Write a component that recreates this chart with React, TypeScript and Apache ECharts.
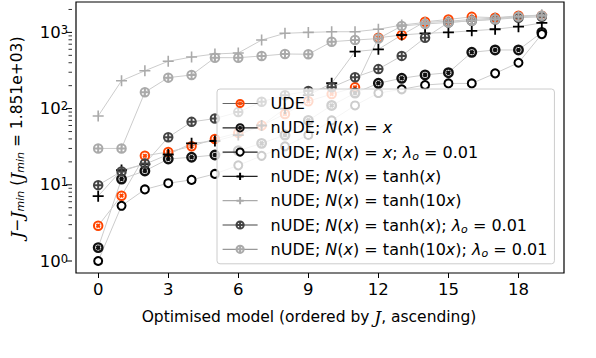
import React, { useEffect, useRef } from 'react';
import * as echarts from 'echarts';

const models = [0, 1, 2, 3, 4, 5, 6, 7, 8, 9, 10, 11, 12, 13, 14, 15, 16, 17, 18, 19];
const xTickValues = [0, 3, 6, 9, 12, 15, 18];
const yMajorTicks = [1, 10, 100, 1000];
const yMinorTicks = [2, 3, 4, 5, 6, 7, 8, 9, 20, 30, 40, 50, 60, 70, 80, 90, 200, 300, 400, 500, 600, 700, 800, 900, 2000];

const udeVals = [2.9, 7.2, 24, 27, 32, 40, 48, 60, 85, 125, 155, 190, 850, 925, 1380, 1480, 1600, 1560, 1650, 1650];
const nudeXVals = [1.5, 11.9, 15.2, 21.8, 23, 24.6, 28, 35, 45, 70, 110, 160, 215, 250, 277, 296, 548, 588, 588, 1000];
const nudeXLamVals = [1.0, 5.3, 8.7, 10.5, 11.6, 13.9, 18, 24, 32, 45, 70, 110, 160, 179, 204, 214, 214, 290, 400, 950];
const nudeTanhVals = [7.1, 15.6, 18.6, 25, 35, 37.6, 45, 60, 100, 150, 215, 560, 600, 925, 973, 1000, 1050, 1100, 1190, 1330];
const nudeTanh10Vals = [80, 232, 314, 418, 475, 521, 537, 794, 973, 1000, 1020, 1020, 1100, 1250, 1350, 1400, 1480, 1540, 1620, 1700];
const nudeTanhLamVals = [9.9, 15, 19, 42, 67, 74, 90, 123, 150, 170, 190, 258, 330, 492, 850, 1350, 1420, 1480, 1560, 1600];
const nudeTanh10LamVals = [30, 30, 164, 255, 276, 466, 466, 490, 521, 517, 755, 794, 830, 1213, 1290, 1350, 1425, 1490, 1610, 1660];

const OTIMES = 'path://M10 0A10 10 0 1 1 -10 0A10 10 0 1 1 10 0ZM-4 -4L4 4M-4 4L4 -4';
const OPLUS = 'path://M10 0A10 10 0 1 1 -10 0A10 10 0 1 1 10 0ZM-10 0L10 0M0 -10L0 10';
const PLUS = 'path://M-10 0L10 0M0 -10L0 10';

const FONT = 'DejaVu Sans';

const seriesDefs = [
  { name: 'UDE', label: 'UDE', vals: udeVals, symbol: OTIMES, size: 8.5, color: '#ff4500', bw: 2, legendLine: '#666666' },
  { name: 'nUDE; N(x) = x', label: 'nUDE; {i|N}({i|x}) = {i|x}', vals: nudeXVals, symbol: OTIMES, size: 8.5, color: '#111111', bw: 2.4, legendLine: '#222222' },
  { name: 'nUDE; N(x) = x; λo = 0.01', label: 'nUDE; {i|N}({i|x}) = {i|x}; {i|λ}{sub|o} = 0.01', vals: nudeXLamVals, symbol: 'emptyCircle', size: 8, color: '#000000', bw: 1.8, legendLine: '#222222' },
  { name: 'nUDE; N(x) = tanh(x)', label: 'nUDE; {i|N}({i|x}) = tanh({i|x})', vals: nudeTanhVals, symbol: PLUS, size: 11, color: '#000000', bw: 1.8, legendLine: '#222222' },
  { name: 'nUDE; N(x) = tanh(10x)', label: 'nUDE; {i|N}({i|x}) = tanh(10{i|x})', vals: nudeTanh10Vals, symbol: PLUS, size: 11, color: '#aaaaaa', bw: 1.6, legendLine: '#aaaaaa' },
  { name: 'nUDE; N(x) = tanh(x); λo = 0.01', label: 'nUDE; {i|N}({i|x}) = tanh({i|x}); {i|λ}{sub|o} = 0.01', vals: nudeTanhLamVals, symbol: OPLUS, size: 8.5, color: '#444444', bw: 2, legendLine: '#444444' },
  { name: 'nUDE; N(x) = tanh(10x); λo = 0.01', label: 'nUDE; {i|N}({i|x}) = tanh(10{i|x}); {i|λ}{sub|o} = 0.01', vals: nudeTanh10LamVals, symbol: OPLUS, size: 8.5, color: '#aaaaaa', bw: 2, legendLine: '#999999' },
];

const labelMap: Record<string, string> = {};
seriesDefs.forEach((d) => { labelMap[d.name] = d.label; });

export default function App() {
  const ref = useRef<HTMLDivElement>(null);
  useEffect(() => {
    const chart = echarts.init(ref.current!, null, { renderer: 'svg' });
    const yMin = 0.696;
    const yMax = 2506;
    const gridLeft = 72;
    const option: any = {
      animation: false,
      textStyle: { fontFamily: FONT },
      grid: { left: gridLeft, right: 32, top: 2, bottom: 85, show: true, borderColor: '#000', borderWidth: 1.2, backgroundColor: 'transparent' },
      xAxis: {
        type: 'value', min: -0.95, max: 19.95,
        axisLine: { show: false },
        splitLine: { show: false },
        axisTick: { show: true, customValues: xTickValues, length: 5, lineStyle: { color: '#000', width: 1 } },
        axisLabel: { customValues: xTickValues, color: '#000', fontSize: 16.5, fontFamily: FONT, margin: 8 },
        name: 'Optimised model (ordered by {J|J}, ascending)',
        nameLocation: 'middle', nameGap: 35,
        nameTextStyle: {
          color: '#000', fontSize: 15.5, fontFamily: FONT, padding: [0, 22, 0, 0],
          rich: { J: { fontFamily: 'DejaVu Serif', fontStyle: 'italic', fontSize: 17, color: '#000' } },
        },
      },
      yAxis: {
        type: 'log', logBase: 10, min: yMin, max: yMax,
        axisLine: { show: false },
        splitLine: { show: false },
        minorTick: { show: false },
        axisTick: { show: false },
        axisLabel: {
          customValues: yMajorTicks, color: '#000', fontSize: 16.5, fontFamily: FONT, margin: 8,
          formatter: (v: number) => {
            const e = Math.round(Math.log10(v));
            if (Math.abs(Math.pow(10, e) - v) < 1e-6 * v) return '10{sup|' + e + '}';
            return '';
          },
          rich: { sup: { fontSize: 11.5, verticalAlign: 'top', color: '#000', fontFamily: FONT } },
        },
        name: '{J|J}−{J|J}{sub|min} ({J|J}{sub|min} = 1.851e+03)',
        nameLocation: 'middle', nameRotate: 90, nameGap: 50,
        nameTextStyle: {
          color: '#000', fontSize: 15.5, fontFamily: FONT,
          rich: {
            J: { fontFamily: 'DejaVu Serif', fontStyle: 'italic', fontSize: 17.5, color: '#000' },
            sub: { fontStyle: 'italic', fontSize: 11, verticalAlign: 'bottom', color: '#000' },
          },
        },
      },
      legend: {
        orient: 'vertical', left: 217, top: 89,
        backgroundColor: 'rgba(255,255,255,0.8)', borderColor: '#cccccc', borderWidth: 1, borderRadius: 3,
        padding: [5, 7, 5, 5], itemWidth: 35, itemHeight: 9, itemGap: 5.3,
        textStyle: {
          color: '#000', fontSize: 16, fontFamily: FONT, lineHeight: 19, padding: [0, 0, 0, 8],
          rich: {
            i: { fontStyle: 'italic', fontSize: 16, fontFamily: FONT, color: '#000', lineHeight: 19 },
            sub: { fontStyle: 'italic', fontSize: 11, fontFamily: FONT, color: '#000', verticalAlign: 'bottom', lineHeight: 19 },
          },
        },
        formatter: (name: string) => labelMap[name] || name,
        data: seriesDefs.map((d) => ({ name: d.name, lineStyle: { color: d.legendLine, width: 1.2 } })),
      },
      series: seriesDefs.map((d) => ({
        name: d.name,
        type: 'line',
        data: models.map((m, i) => [m, d.vals[i]]),
        symbol: d.symbol,
        symbolSize: d.size,
        symbolKeepAspect: true,
        showAllSymbol: true,
        lineStyle: { color: '#cccccc', width: 1 },
        itemStyle: d.symbol === 'emptyCircle'
          ? { color: d.color, borderColor: d.color, borderWidth: d.bw }
          : { color: 'rgba(0,0,0,0)', borderColor: d.color, borderWidth: d.bw },
        emphasis: { disabled: true },
      })),
    };
    chart.setOption(option);
    const tickEls: any[] = [];
    const addTick = (v: number, len: number, w: number) => {
      const y = chart.convertToPixel({ yAxisIndex: 0 }, v) as number;
      if (typeof y !== 'number' || isNaN(y)) return;
      tickEls.push({
        type: 'line', silent: true,
        shape: { x1: gridLeft - len, y1: y, x2: gridLeft, y2: y },
        style: { stroke: '#000', lineWidth: w },
      });
    };
    yMajorTicks.forEach((v) => addTick(v, 6, 1));
    yMinorTicks.forEach((v) => addTick(v, 3.5, 0.8));
    chart.setOption({ graphic: tickEls });
    return () => chart.dispose();
  }, []);
  return <div ref={ref} style={{ position: 'absolute', left: 0, top: 0, width: 596, height: 358 }} />;
}
